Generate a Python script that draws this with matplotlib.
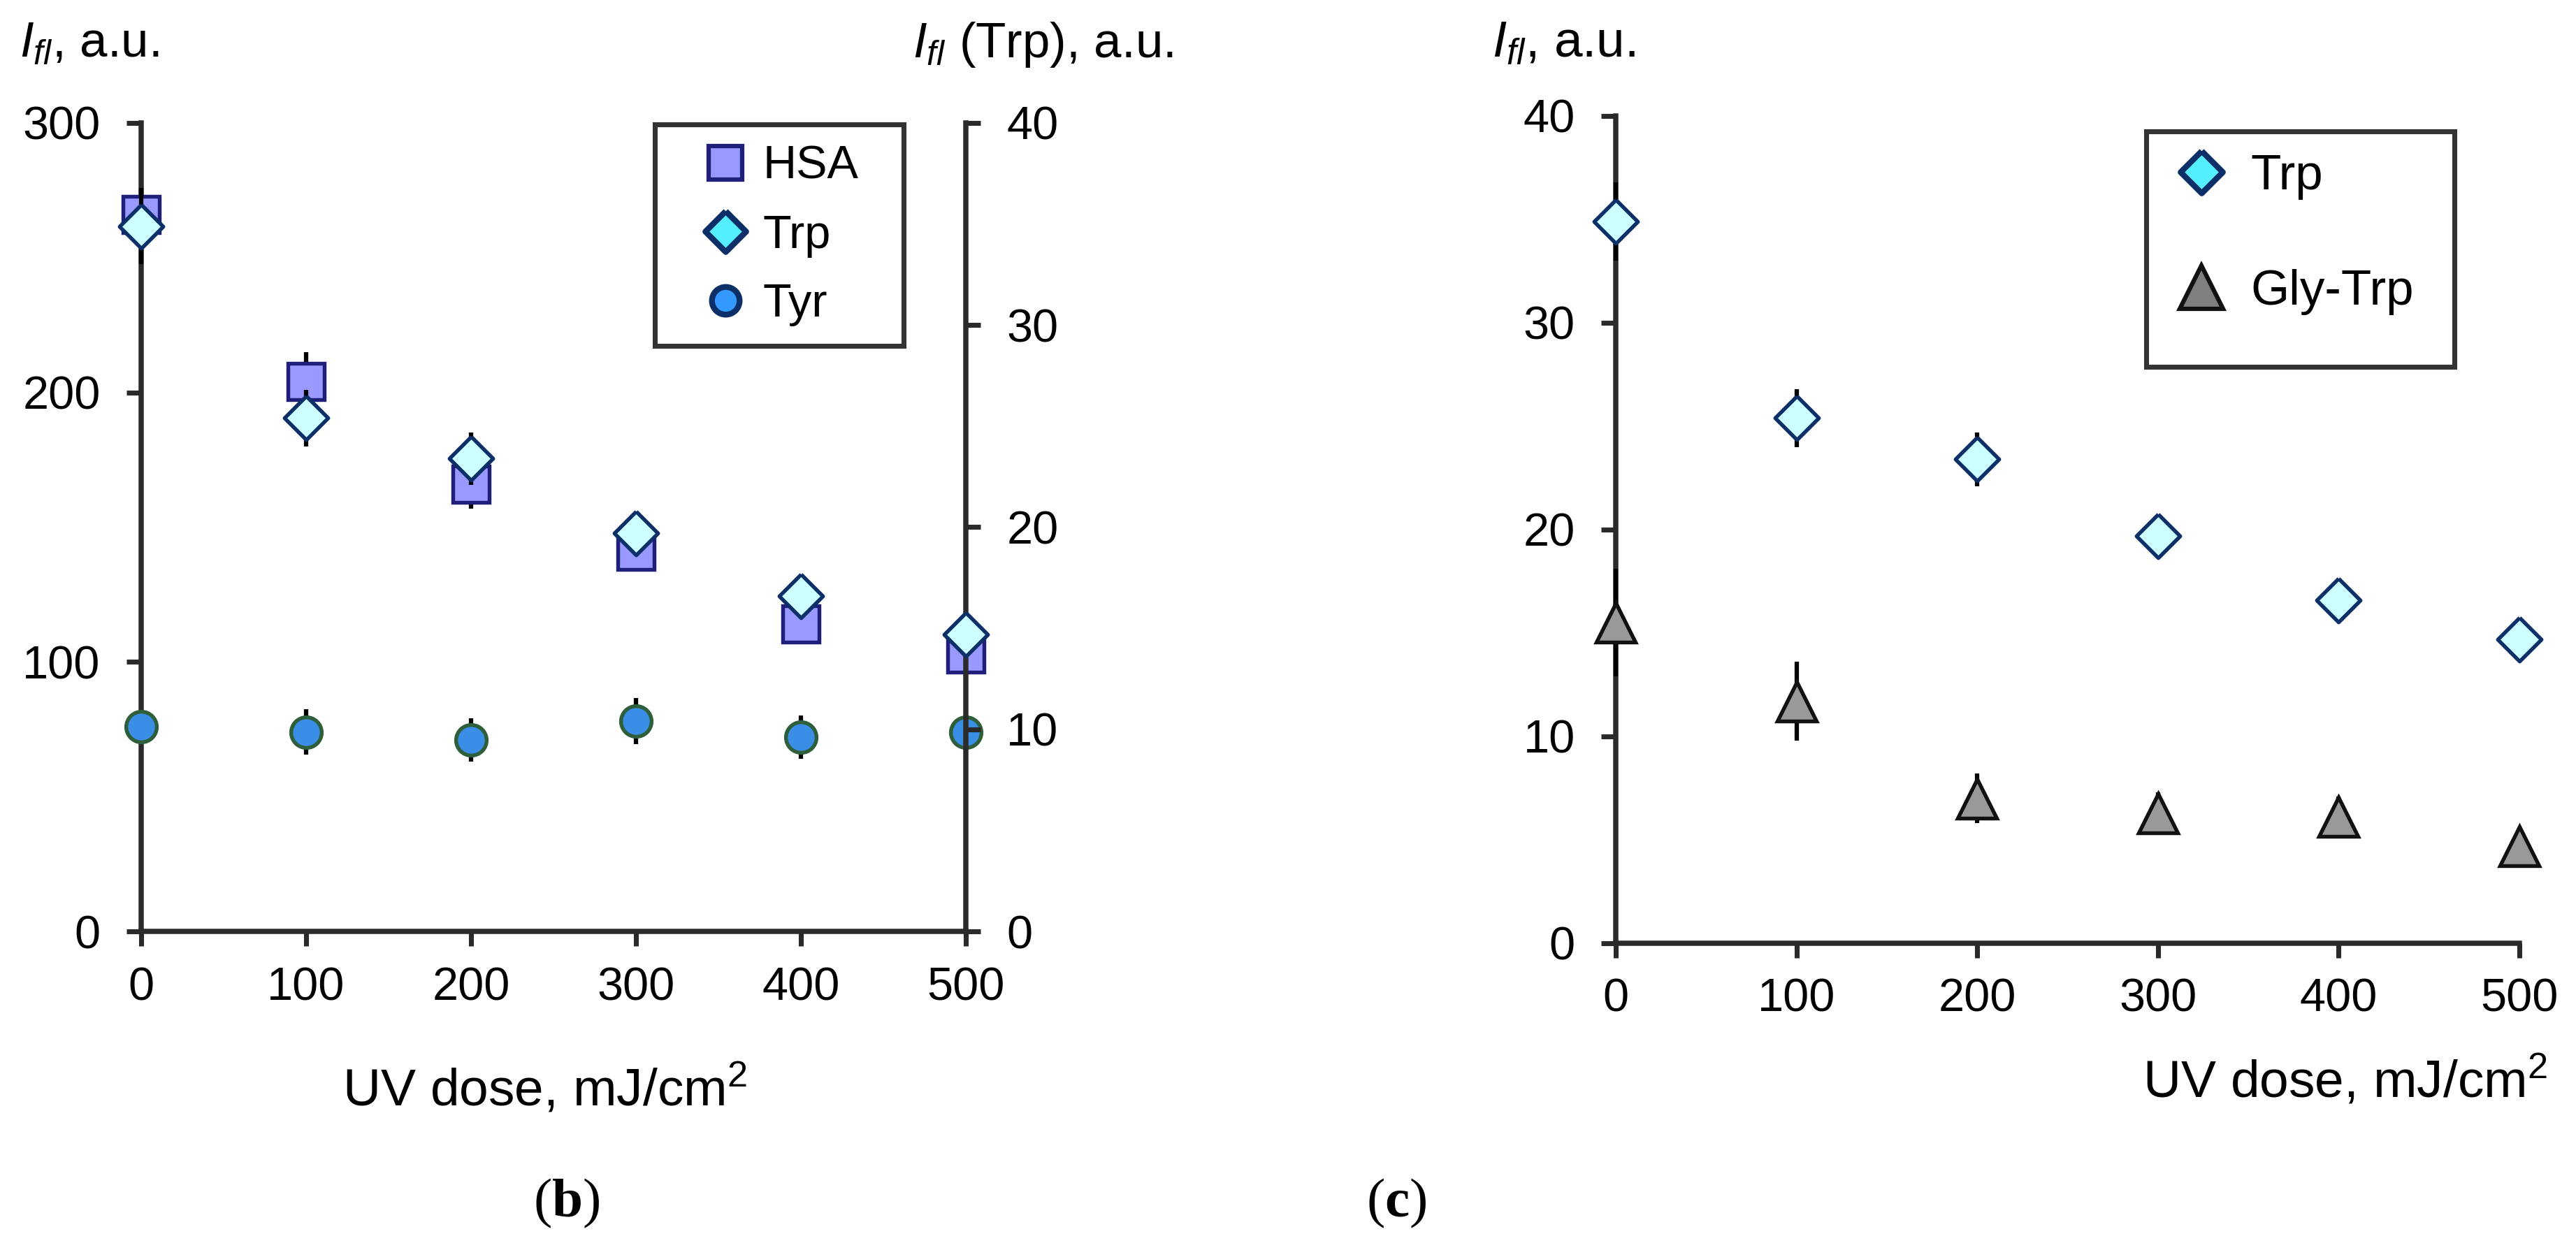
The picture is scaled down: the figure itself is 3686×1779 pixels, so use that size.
import matplotlib
matplotlib.use("Agg")
import matplotlib.pyplot as plt
from matplotlib.lines import Line2D
from matplotlib.patches import Rectangle

plt.rcParams["font.family"] = ["Liberation Sans", "DejaVu Sans"]
plt.rcParams["mathtext.fontset"] = "custom"
plt.rcParams["mathtext.rm"] = "Liberation Sans"
plt.rcParams["mathtext.it"] = "Liberation Sans:italic"
plt.rcParams["mathtext.bf"] = "Liberation Serif:bold"

dose = [0, 100, 200, 300, 400, 500]

# panel (b), left axis
hsa = [266, 204, 166, 141, 114, 103]
hsa_err = [10, 11, 9, 6, 5, 4]
tyr = [76, 74, 71, 78, 72, 74]
tyr_err = [6, 8.5, 8, 8.5, 8, 6]
# Trp (right axis of b, and panel c)
trp = [34.9, 25.4, 23.4, 19.7, 16.6, 14.7]
trp_err = [1.9, 1.4, 1.3, 1.0, 0.9, 0.7]
# panel (c)
gly_trp = [15.5, 11.7, 7.0, 6.3, 6.1, 4.7]
gly_trp_err = [2.6, 1.9, 1.2, 1.0, 1.0, 0.4]

left_ticks = [0, 100, 200, 300]
trp_ticks = [0, 10, 20, 30, 40]

W, H = 3687, 1779
fig = plt.figure(figsize=(W / 300, H / 300), dpi=300, facecolor="w")

AX_COL = "#2a2a2a"
FS = 16


def fx(px):
    return px / W


def fy(py):
    return 1 - py / H


def draw_points(ax, y, err, marker, ms, fc, ec):
    ax.errorbar(dose, y, yerr=err, fmt="none", ecolor="black", elinewidth=1.5,
                capsize=0, zorder=3, clip_on=False)
    ax.plot(dose, y, linestyle="none", marker=marker, ms=ms, mfc=fc, mec=ec,
            mew=1.3, zorder=4, clip_on=False)


def style(ax, show_left=True, show_right=False, show_bottom=True):
    ax.spines["top"].set_visible(False)
    ax.spines["left"].set_visible(show_left)
    ax.spines["right"].set_visible(show_right)
    ax.spines["bottom"].set_visible(show_bottom)
    for s in ax.spines.values():
        s.set_color(AX_COL)
        s.set_linewidth(1.8)
    ax.tick_params(direction="out", length=5, width=1.7, color=AX_COL, labelsize=FS)
    ax.tick_params(axis="x", pad=7)
    ax.tick_params(axis="y", pad=9)
    ax.set_facecolor("none")


def legend_box(x0, y0, x1, y1):
    fig.patches.append(Rectangle((fx(x0), fy(y1)), fx(x1) - fx(x0), fy(y0) - fy(y1),
                                 transform=fig.transFigure, fill=False,
                                 edgecolor="#333333", linewidth=1.7, zorder=10))


diamond = [(0, 1), (1, 0), (0, -1), (-1, 0), (0, 1)]

# ---- panel (b)
ax = fig.add_axes([fx(202), fy(1333), fx(1382) - fx(202), fy(176) - fy(1333)])
ax2 = ax.twinx()
style(ax)
style(ax2, show_left=False, show_right=True, show_bottom=False)
ax.set_xlim(0, 500)
ax.set_ylim(0, 300)
ax.set_xticks(dose)
ax.set_yticks(left_ticks)
ax2.set_ylim(0, 40)
ax2.set_yticks(trp_ticks)

draw_points(ax, hsa, hsa_err, "s", 12.5, "#9999FF", "#1F1F7A")
draw_points(ax, tyr, tyr_err, "o", 10.5, "#3A8EE6", "#2F5F3A")
draw_points(ax2, trp, trp_err, diamond, 15, "#CCFFFF", "#0B2F66")

h_b = [
    Line2D([], [], ls="none", marker="s", ms=11.5, mfc="#9999FF", mec="#1F1F7A", mew=1.5, label="HSA"),
    Line2D([], [], ls="none", marker=diamond, ms=14, mfc="#55EEFF", mec="#0B2F66", mew=2.0, label="Trp"),
    Line2D([], [], ls="none", marker="o", ms=9.5, mfc="#3399FF", mec="#0B2F66", mew=2.0, label="Tyr"),
]
leg = ax2.legend(handles=h_b, loc="upper left",
                 bbox_to_anchor=(fx(1005), fy(208)), bbox_transform=fig.transFigure,
                 fontsize=FS, frameon=False, borderpad=0, labelspacing=0.55,
                 handlelength=1.0, handletextpad=0.3, borderaxespad=0)
legend_box(937, 178, 1293, 495)

fig.text(fx(28), fy(82), r"$I_{fl}$, a.u.", fontsize=17, ha="left", va="baseline")
fig.text(fx(1306), fy(82), r"$I_{fl}$ (Trp), a.u.", fontsize=17, ha="left", va="baseline")
fig.text(fx(780), fy(1559), r"UV dose, mJ/cm$^2$", fontsize=18, ha="center", va="center")
fig.text(fx(811), fy(1722), r"($\mathbf{b}$)", fontsize=19, ha="center", va="center",
         family="Liberation Serif")

# ---- panel (c)
axc = fig.add_axes([fx(2312), fy(1350), fx(3605) - fx(2312), fy(166) - fy(1350)])
style(axc)
axc.set_xlim(0, 500)
axc.set_ylim(0, 40)
axc.set_xticks(dose)
axc.set_yticks(trp_ticks)

draw_points(axc, trp, trp_err, diamond, 15, "#CCFFFF", "#0B2F66")
draw_points(axc, gly_trp, gly_trp_err, "^", 13.5, "#999999", "#111111")

h_c = [
    Line2D([], [], ls="none", marker=diamond, ms=14.5, mfc="#55EEFF", mec="#0B2F66", mew=2.0, label="Trp"),
    Line2D([], [], ls="none", marker="^", ms=15, mfc="#808080", mec="#111111", mew=1.5, label="Gly-Trp"),
]
legc = axc.legend(handles=h_c, loc="upper left",
                  bbox_to_anchor=(fx(3115), fy(220)), bbox_transform=fig.transFigure,
                  fontsize=17, frameon=False, borderpad=0, labelspacing=1.4,
                  handlelength=1.0, handletextpad=0.49, borderaxespad=0)
legend_box(3071, 188, 3512, 525)

fig.text(fx(2135), fy(82), r"$I_{fl}$, a.u.", fontsize=17.5, ha="left", va="baseline")
fig.text(fx(3645), fy(1547), r"UV dose, mJ/cm$^2$", fontsize=18, ha="right", va="center")
fig.text(fx(1998), fy(1722), r"($\mathbf{c}$)", fontsize=19, ha="center", va="center",
         family="Liberation Serif")

fig.savefig("out.png", dpi=300, facecolor="w")
